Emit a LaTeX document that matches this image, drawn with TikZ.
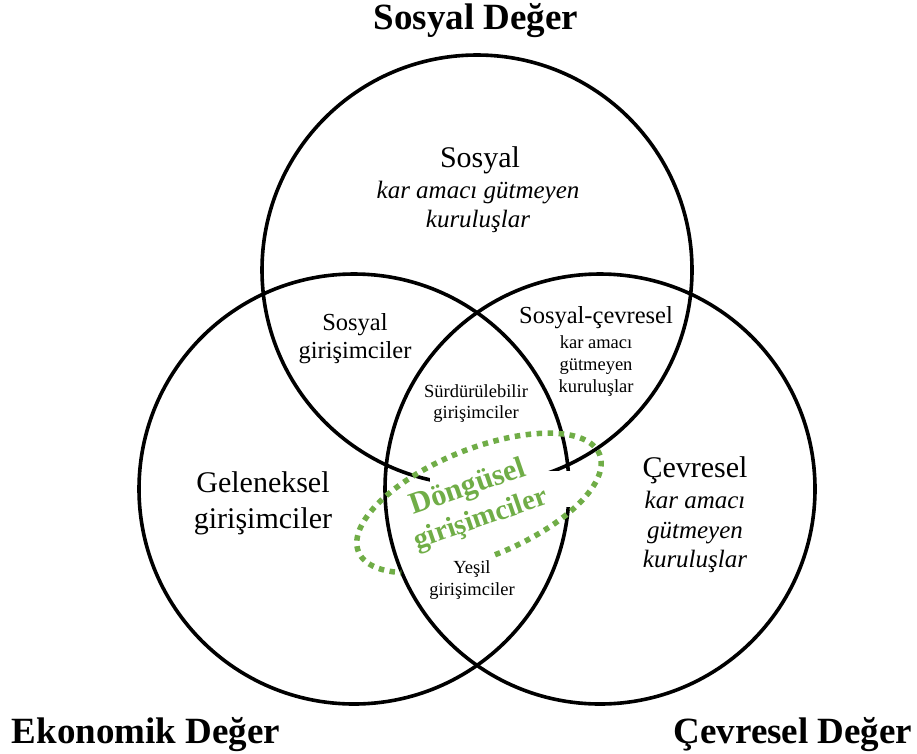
\documentclass[tikz,border=0pt]{standalone}
\usepackage{fontspec}
\setmainfont{Liberation Serif}
\definecolor{loopgreen}{HTML}{70AD47}
\tikzset{
  ring/.style={line width=3.6pt, draw=black},
  titletext/.style={font=\fontsize{37}{40}\selectfont\bfseries, anchor=base, inner sep=0pt},
  bigtext/.style={font=\fontsize{30}{34}\selectfont, anchor=base, inner sep=0pt},
  bigital/.style={font=\fontsize{25}{30}\selectfont\itshape, anchor=base, inner sep=0pt},
  midtext/.style={font=\fontsize{24.5}{28}\selectfont, anchor=base, inner sep=0pt},
  smalltext/.style={font=\fontsize{18.5}{22}\selectfont, anchor=base, inner sep=0pt},
  looptext/.style={font=\bfseries, text=loopgreen, rotate=19, inner sep=0pt},
  loopring/.style={draw=loopgreen, line width=5.5pt, dash pattern=on 5.5pt off 5.5pt}
}
\begin{document}
\begin{tikzpicture}[x=1pt, y=-1pt]
\useasboundingbox (0,0) rectangle (917,753);

% circle centres
\coordinate (cs) at (477,270);
\coordinate (ce) at (354,489);
\coordinate (cc) at (600,489);

% the three value circles
\draw[ring] (cs) circle [radius=215pt];
\draw[ring] (ce) circle [radius=215pt];
\draw[ring] (cc) circle [radius=215pt];

% white patch behind the circular-entrepreneur label
\fill[white] (430,471) rectangle (574,507);

% dotted ring around the centre (tilted ellipse, open under the green-entrepreneur label)
\draw[loopring] plot[domain=268:581, samples=260, variable=\t]
  ({479 + 130*cos(\t)*cos(22) - 54*sin(\t)*sin(22)},
   {503 - 130*cos(\t)*sin(22) - 54*sin(\t)*cos(22)});

% titles
\node[titletext] (tsos) at (476,29) {Sosyal Değer};
\node[titletext] (teko) at (146,743) {Ekonomik Değer};
\node[titletext] (tcev) at (793,743) {Çevresel Değer};

% social circle
\node[bigtext] (s1) at (480,167) {Sosyal};
\node[bigital] (s2) at (478,198) {kar amacı gütmeyen};
\node[bigital] (s3) at (478,227) {kuruluşlar};

% social + economic
\node[midtext] (se1) at (355,330) {Sosyal};
\node[midtext] (se2) at (355,358) {girişimciler};

% social + environmental
\node[midtext] (sc1) at (596,323) {Sosyal-çevresel};
\node[smalltext] (sc2) at (596,348) {kar amacı};
\node[smalltext] (sc3) at (596,370) {gütmeyen};
\node[smalltext] (sc4) at (596,392) {kuruluşlar};

% centre
\node[smalltext] (m1) at (476,397) {Sürdürülebilir};
\node[smalltext] (m2) at (476,418) {girişimciler};

% economic circle
\node[bigtext] (e1) at (263,492) {Geleneksel};
\node[bigtext] (e2) at (263,528) {girişimciler};

% environmental circle
\node[bigtext] (c1) at (695,477) {Çevresel};
\node[bigital] (c2) at (695,508) {kar amacı};
\node[bigital] (c3) at (695,538) {gütmeyen};
\node[bigital] (c4) at (695,567) {kuruluşlar};

% economic + environmental
\node[smalltext] (g1) at (472,573) {Yeşil};
\node[smalltext] (g2) at (472,595) {girişimciler};

% circular entrepreneurs
\node[looptext, font=\fontsize{30.5}{34}\selectfont\bfseries] (d1) at (468,488) {Döngüsel};
\node[looptext, font=\fontsize{28.5}{34}\selectfont\bfseries] (d2) at (481,520) {girişimciler};
\end{tikzpicture}
\end{document}
